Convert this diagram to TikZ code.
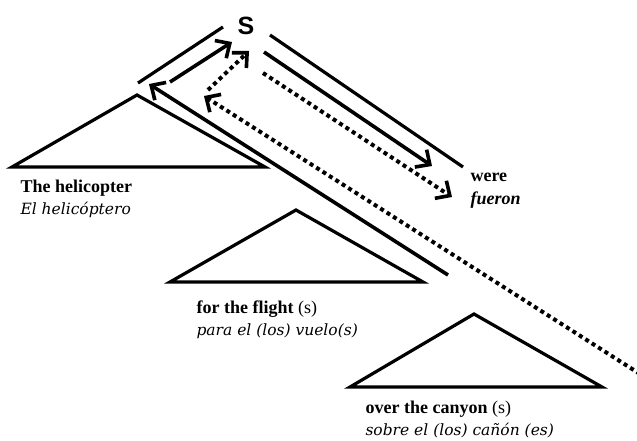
\documentclass[tikz,border=0pt]{standalone}
\usepackage{fontspec}
\setmainfont{Liberation Serif}
\newfontfamily\sfont{Liberation Sans}
\newfontfamily\itfont{DejaVu Serif}
\usetikzlibrary{arrows.meta}
\begin{document}
\begin{tikzpicture}[x=1pt, y=-1pt,
  tri/.style={line width=3.2pt, line join=miter},
  bar/.style={line width=3.2pt},
  arr/.style={line width=3.6pt, -{Straight Barb[length=11pt, width=21pt, line width=3.6pt]}},
  dots/.style={line width=4pt, dash pattern=on 4pt off 3.6pt},
  en/.style={anchor=base west, font=\fontsize{18}{20}\selectfont\bfseries},
  es/.style={anchor=base west, font=\itfont\fontsize{15.5}{18}\selectfont\itshape}]
  \useasboundingbox (0,0) rectangle (637,441);
  % root
  \node[font=\sfont\fontsize{25}{28}\selectfont\bfseries] (s) at (246,26) {S};
  % end points of the branches
  \coordinate (tl1) at (138,83);  \coordinate (tl2) at (223,27);
  \coordinate (tr1) at (270,35);  \coordinate (tr2) at (463,167);
  \coordinate (vp1) at (264,52);  \coordinate (vp2) at (432,166);
  \coordinate (vd1) at (263,73);  \coordinate (vd2) at (452,197);
  \coordinate (up1) at (170,82);  \coordinate (up2) at (232,42);
  \coordinate (lo1) at (448,275); \coordinate (lo2) at (149,84);
  \coordinate (ud1) at (208,90);  \coordinate (ud2) at (249,51);
  \coordinate (ld1) at (640,374); \coordinate (ld2) at (204,96);
  \draw[bar] (tl1) -- (tl2);
  \draw[bar] (tr1) -- (tr2);
  \draw[arr] (vp1) -- (vp2);
  \draw[arr, dots] (vd1) -- (vd2);
  \draw[arr] (up1) -- (up2);
  \draw[arr] (lo1) -- (lo2);
  \draw[arr, dots] (ud1) -- (ud2);
  \draw[arr, dots] (ld1) -- (ld2);
  % subtrees
  \draw[tri] (137,95) -- (265,167) -- (12,167) -- cycle;
  \draw[tri] (296,210) -- (423,282) -- (170,282) -- cycle;
  \draw[tri] (474,314) -- (602,387) -- (350,387) -- cycle;
  % labels
  \node[en] (heli) at (17,192) {The helicopter};
  \node[es] (helies) at (17,214) {El helicóptero};
  \node[en] (were) at (467,181) {were};
  \node[en, font=\fontsize{18}{20}\selectfont\bfseries\itshape] (fueron) at (467,204) {fueron};
  \node[en] (flight) at (193,313) {for the flight \mdseries(s)};
  \node[es] (flightes) at (193,335) {para el (los) vuelo(s)};
  \node[en] (canyon) at (362,413) {over the canyon \mdseries(s)};
  \node[es] (canyones) at (362,435) {sobre el (los) cañón (es)};
\end{tikzpicture}
\end{document}
